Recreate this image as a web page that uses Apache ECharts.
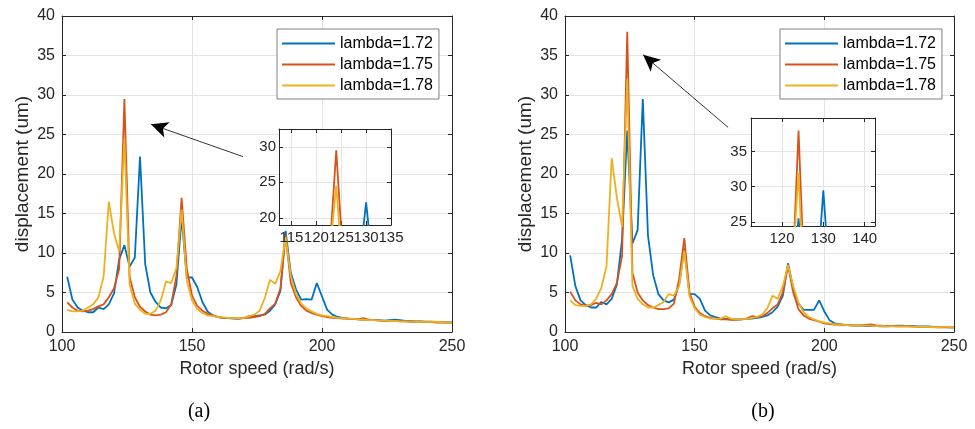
<!DOCTYPE html>
<html><head><meta charset="utf-8">
<script src="https://cdn.jsdelivr.net/npm/echarts@6/dist/echarts.min.js"></script>
<style>html,body{margin:0;padding:0;background:#fff}#c{width:975px;height:429px}</style>
</head><body><div id="c"></div>
<script>
// ---- data ----
const speeds = [102,104,106,108,110,112,114,116,118,120,122,124,126,128,130,132,134,136,138,140,
  142,144,146,148,150,152,154,156,158,160,162,164,166,168,170,172,174,176,178,180,
  182,184,186,188,190,192,194,196,198,200,202,204,206,208,210,212,214,216,218,220,
  222,224,226,228,230,232,234,236,238,240,242,244,246,248,250];
const seriesNames = ['lambda=1.72','lambda=1.75','lambda=1.78'];
const seriesColors = ['#0072BD','#D95319','#EDB120'];

// (a)
const a172 = [7.0,4.1,3.1,2.7,2.5,2.5,3.1,2.9,3.5,4.9,9.2,11,8.3,9.4,22.2,8.6,5.0,3.8,3.1,3.0,
  3.4,6.0,14.5,6.9,6.9,5.7,3.8,2.6,2.1,1.9,1.8,1.75,1.7,1.7,1.8,2.0,2.0,2.1,2.2,2.7,
  3.5,5.2,12.8,7.5,5.4,4.1,4.15,4.1,6.2,4.5,2.8,2.2,1.9,1.8,1.7,1.65,1.6,1.55,1.55,1.5,
  1.5,1.45,1.5,1.55,1.5,1.4,1.4,1.35,1.35,1.3,1.3,1.25,1.25,1.2,1.2];
const a175 = [3.75,3.1,2.7,2.6,2.7,2.9,3.25,3.5,4.4,5.5,8.0,29.5,7.0,4.4,3.2,2.6,2.2,2.1,2.2,2.5,
  3.5,7.1,17.0,8.0,4.6,3.3,2.7,2.3,2.1,1.9,1.8,1.8,1.75,1.7,1.75,1.8,1.9,2.0,2.3,3.0,
  3.6,5.5,12.3,6.2,4.4,3.3,2.7,2.4,2.2,2.0,1.9,1.8,1.75,1.7,1.7,1.65,1.6,1.75,1.5,1.5,
  1.45,1.4,1.4,1.4,1.35,1.35,1.3,1.3,1.3,1.25,1.25,1.2,1.2,1.2,1.15];
const a178 = [2.8,2.6,2.6,2.7,3.1,3.5,4.4,7.0,16.5,12.5,10.2,24.5,6.0,3.6,2.8,2.3,2.3,2.7,4.0,6.4,
  6.2,8.1,15.5,6.5,4.0,2.9,2.4,2.1,2.0,1.9,1.85,1.8,1.75,1.75,1.8,2.0,2.2,2.7,4.3,6.6,
  6.1,7.7,12.0,7.1,4.8,3.6,3.0,2.6,2.3,2.1,2.0,1.9,1.8,1.75,1.7,1.65,1.6,1.55,1.5,1.5,
  1.45,1.45,1.4,1.4,1.35,1.35,1.35,1.3,1.3,1.3,1.3,1.3,1.25,1.2,1.15];
// (b)
const b172 = [9.7,5.8,4.0,3.4,3.1,3.1,3.8,3.5,4.2,6.0,11.7,25.5,11.2,12.9,29.5,12.2,7.2,4.8,4.0,3.75,
  4.1,6.0,10.6,4.8,4.8,4.2,2.7,2.1,1.9,1.7,1.65,1.6,1.6,1.6,1.65,1.7,1.8,1.9,2.1,2.5,
  3.2,4.6,8.7,5.5,3.6,2.8,2.8,2.8,4.0,2.6,1.5,1.1,1.0,0.9,0.85,0.8,0.8,0.75,0.75,0.75,
  0.7,0.7,0.75,0.8,0.8,0.75,0.75,0.7,0.7,0.7,0.65,0.65,0.65,0.6,0.6];
const b175 = [5.1,4.0,3.5,3.3,3.4,3.7,3.5,4.0,4.8,6.2,9.6,38,7.5,5.0,4.0,3.4,3.1,2.9,2.9,3.0,
  3.6,6.7,11.9,5.0,3.2,2.4,2.0,1.8,1.7,1.6,1.6,1.55,1.55,1.6,1.7,2.0,1.9,2.0,2.4,3.0,
  3.5,5.0,8.5,5.0,2.9,2.1,1.7,1.5,1.3,1.1,1.0,0.95,0.9,0.9,0.85,0.85,0.85,0.9,0.95,0.85,
  0.8,0.75,0.75,0.7,0.7,0.7,0.7,0.65,0.65,0.65,0.65,0.6,0.6,0.6,0.6];
const b178 = [4.0,3.4,3.3,3.3,3.5,4.2,5.6,8.3,22.0,17.0,13.3,32,5.8,4.2,3.5,3.1,3.1,3.4,3.8,4.8,
  4.6,5.8,10.3,4.5,3.0,2.2,1.9,1.7,1.65,1.7,2.0,1.7,1.6,1.6,1.65,1.75,1.9,2.2,3.0,4.6,
  4.2,5.8,8.5,5.8,3.75,2.5,1.9,1.6,1.35,1.2,1.1,1.0,0.95,0.9,0.85,0.85,0.8,0.8,0.8,0.75,
  0.75,0.7,0.7,0.7,0.7,0.7,0.65,0.65,0.65,0.65,0.6,0.6,0.65,0.65,0.6];

// tick labels
const mainXTicks = [100,150,200,250];
const mainYTicks = [0,5,10,15,20,25,30,35,40];
const insetAXTicks = [115,120,125,130,135];
const insetAYTicks = [20,25,30];
const insetBXTicks = [120,130,140];
const insetBYTicks = [25,30,35];
// arrows (data coordinates: tail -> head)
const arrowA = [[169.6,22.2],[134.2,26.3]];
const arrowB = [[162.9,25.9],[130.1,35.1]];

// ---- chart ----
const FONT = "'Liberation Sans', Arial, Helvetica, sans-serif";
const AX = '#262626', GRIDC = '#e4e4e4';
const chart = echarts.init(document.getElementById('c'), null, {renderer:'canvas'});

function axis(kind, gridIndex, position, min, max, ticks, opt) {
  opt = opt || {};
  const a = {
    type:'value', gridIndex, position, min, max, z: opt.z || 0,
    axisLine:{show:true, onZero:false, lineStyle:{color:AX, width:1}},
    axisTick:{show:true, inside:true, length:4, customValues:ticks, lineStyle:{color:AX, width:1}},
    axisLabel:{show:!!opt.label, customValues:ticks, fontSize:opt.fs||16, color:AX,
      margin:opt.margin==null?6:opt.margin, fontFamily:FONT},
    splitLine:{show:!!opt.split, lineStyle:{color:GRIDC, width:1}}
  };
  if (opt.name) {
    a.name = opt.name; a.nameLocation = 'middle'; a.nameGap = opt.nameGap;
    a.nameTextStyle = {fontSize:opt.nameSize||18, color:AX, fontFamily:FONT};
  }
  return a;
}

const grids = [
  {left:62, top:16, width:390, height:316},
  {left:565, top:16, width:389, height:316},
  {left:279, top:129, width:112, height:96, show:true, backgroundColor:'#fff', borderWidth:0, z:3},
  {left:751, top:118, width:124, height:108, show:true, backgroundColor:'#fff', borderWidth:0, z:3}
];

const xAxes = [
  axis('x',0,'bottom',100,250,mainXTicks,{label:true,split:true,margin:7,name:'Rotor speed (rad/s)',nameGap:27}),
  axis('x',0,'top',100,250,mainXTicks,{}),
  axis('x',1,'bottom',100,250,mainXTicks,{label:true,split:true,margin:7,name:'Rotor speed (rad/s)',nameGap:27}),
  axis('x',1,'top',100,250,mainXTicks,{}),
  axis('x',2,'bottom',112.5,135,insetAXTicks,{label:true,split:true,fs:15,margin:5,z:4}),
  axis('x',2,'top',112.5,135,insetAXTicks,{z:4}),
  axis('x',3,'bottom',112.5,142.5,insetBXTicks,{label:true,split:true,fs:15,margin:5,z:4}),
  axis('x',3,'top',112.5,142.5,insetBXTicks,{z:4})
];
const yAxes = [
  axis('y',0,'left',0,40,mainYTicks,{label:true,split:true,margin:7,name:'displacement (um)',nameGap:30,nameSize:19}),
  axis('y',0,'right',0,40,mainYTicks,{}),
  axis('y',1,'left',0,40,mainYTicks,{label:true,split:true,margin:7,name:'displacement (um)',nameGap:30,nameSize:19}),
  axis('y',1,'right',0,40,mainYTicks,{}),
  axis('y',2,'left',19,32.5,insetAYTicks,{label:true,split:true,fs:15,margin:3,z:4}),
  axis('y',2,'right',19,32.5,insetAYTicks,{z:4}),
  axis('y',3,'left',24.4,39.8,insetBYTicks,{label:true,split:true,fs:15,margin:4,z:4}),
  axis('y',3,'right',24.4,39.8,insetBYTicks,{z:4})
];

function pairs(vals){ return speeds.map((s,i)=>[s, vals[i]]); }
function arrowMark(arr){
  return {silent:true, symbol:['none','arrow'], symbolSize:[12,17], animation:false,
    lineStyle:{color:'#000', width:0.8, type:'solid'}, label:{show:false},
    data:[[{coord:arr[0]},{coord:arr[1]}]]};
}
const series = [];
const sets = [[a172,a175,a178],[b172,b175,b178]];
const arrows = [arrowA, arrowB];
sets.forEach((set, chartIdx) => {
  set.forEach((vals, k) => {
    const s = {type:'line', name:seriesNames[k], xAxisIndex:chartIdx*2, yAxisIndex:chartIdx*2,
      data:pairs(vals), symbol:'none', showSymbol:false, smooth:false, clip:true, z:2,
      lineStyle:{color:seriesColors[k], width:1.8}, itemStyle:{color:seriesColors[k]}};
    if (k===0) s.markLine = arrowMark(arrows[chartIdx]);
    series.push(s);
  });
  set.forEach((vals, k) => {
    series.push({type:'line', name:seriesNames[k], xAxisIndex:4+chartIdx*2, yAxisIndex:4+chartIdx*2,
      data:pairs(vals), symbol:'none', showSymbol:false, smooth:false, clip:true, z:5,
      lineStyle:{color:seriesColors[k], width:1.8}, itemStyle:{color:seriesColors[k]}});
  });
});

function legend(left){
  return {data:seriesNames, left, top:29, orient:'vertical', icon:'rect', itemWidth:53, itemHeight:2.2, itemGap:4,
    padding:[6,6,5,5], borderColor:'#808080', borderWidth:1, backgroundColor:'#fff',
    selectedMode:false, textStyle:{fontSize:16, lineHeight:17, color:'#000', fontFamily:FONT}, z:6};
}

chart.setOption({
  animation:false,
  backgroundColor:'#fff',
  grid:grids,
  xAxis:xAxes,
  yAxis:yAxes,
  legend:[legend(277), legend(780)],
  series,
  graphic:[
    {type:'text', x:199, y:412, style:{text:'(a)', font:"20px 'Liberation Serif', 'Times New Roman', serif", fill:'#000', textAlign:'center', textVerticalAlign:'middle'}},
    {type:'text', x:763, y:412, style:{text:'(b)', font:"20px 'Liberation Serif', 'Times New Roman', serif", fill:'#000', textAlign:'center', textVerticalAlign:'middle'}}
  ]
});
</script></body></html>
